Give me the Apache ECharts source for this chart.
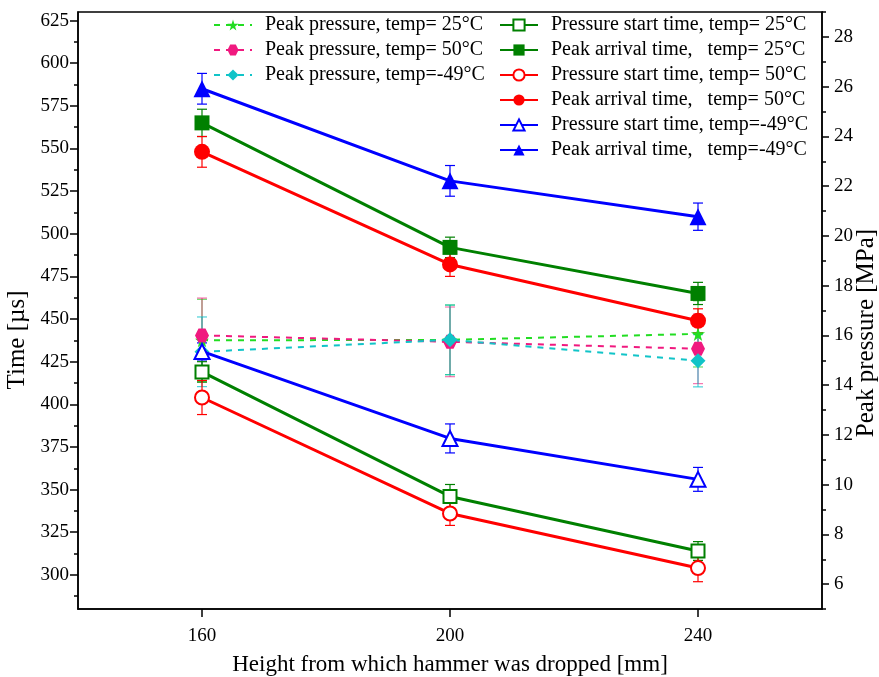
<!DOCTYPE html>
<html><head><meta charset="utf-8">
<script src="https://cdn.jsdelivr.net/npm/echarts@6/dist/echarts.min.js"></script>
<style>html,body{margin:0;padding:0;background:#fff}#c{width:879px;height:677px}</style>
</head><body><div id="c"></div>
<script>
const heights = [160, 200, 240];
const xTicks = [160, 200, 240];
const leftTicks = [300, 325, 350, 375, 400, 425, 450, 475, 500, 525, 550, 575, 600, 625];
const leftMinorTicks = [287.5, 312.5, 337.5, 362.5, 387.5, 412.5, 437.5, 462.5, 487.5, 512.5, 537.5, 562.5, 587.5, 612.5];
const rightTicks = [6, 8, 10, 12, 14, 16, 18, 20, 22, 24, 26, 28];
const rightMinorTicks = [5, 7, 9, 11, 13, 15, 17, 19, 21, 23, 25, 27, 29];
const leftTitle = 'Time [µs]';
const rightTitle = 'Peak pressure [MPa]';
// Time [µs] (left axis)
const startT25 = [419, 346, 314];
const startT25Err = [6, 7, 5.5];
const arrivalT25 = [565, 492, 465];
const arrivalT25Err = [8, 6, 6.5];
const startT50 = [404, 336, 304];
const startT50Err = [10, 7, 8];
const arrivalT50 = [548, 482, 449];
const arrivalT50Err = [9, 7, 7];
const startTm49 = [431, 380, 356];
const startTm49Err = [5, 8.5, 7];
const arrivalTm49 = [585, 531, 510];
const arrivalTm49Err = [9, 9, 8];
// Peak pressure [MPa] (right axis)
const peakP25 = [15.8, 15.82, 16.06];
const peakP25Err = [1.65, 1.4, 1.33];
const peakP50 = [16.0, 15.74, 15.46];
const peakP50Err = [1.5, 1.4, 1.4];
const peakPm49 = [15.34, 15.82, 14.98];
const peakPm49Err = [1.4, 1.4, 1.05];

const FONT = 'Liberation Serif';
const star = 'path://M50,0 L61,35 L98,35 L68,57 L79,91 L50,70 L21,91 L32,57 L2,35 L39,35 Z';
const hexagon = 'path://M25,0 L75,0 L100,50 L75,100 L25,100 L0,50 Z';

function pts(ys){ return heights.map((h,i)=>[h, ys[i]]); }
function errSeries(ys, errs, color, yIdx, w){
  return {
    type:'custom', yAxisIndex:yIdx, silent:true, z:3,
    data: heights.map((h,i)=>[h, ys[i], errs[i]]),
    encode:{x:0, y:1},
    renderItem:function(params, api){
      const x=api.value(0), y=api.value(1), e=api.value(2);
      const t=api.coord([x,y+e]), b=api.coord([x,y-e]);
      const hw=5;
      const st={stroke:color, lineWidth:w};
      return {type:'group', children:[
        {type:'line', shape:{x1:t[0],y1:t[1],x2:b[0],y2:b[1]}, style:st},
        {type:'line', shape:{x1:t[0]-hw,y1:t[1],x2:t[0]+hw,y2:t[1]}, style:st},
        {type:'line', shape:{x1:b[0]-hw,y1:b[1],x2:b[0]+hw,y2:b[1]}, style:st}
      ]};
    }
  };
}
function timeLine(name, ys, color, symbol, size, empty){
  return {
    name, type:'line', yAxisIndex:0, data:pts(ys), symbol, symbolSize:size, z:5,
    showAllSymbol:true,
    lineStyle:{color, width:3},
    itemStyle: empty ? {color, borderColor:color, borderWidth:2.5} : {color, borderColor:color, borderWidth:0},
    emphasis:{disabled:true}
  };
}
function pressLine(name, ys, color, symbol, size){
  return {
    name, type:'line', yAxisIndex:1, data:pts(ys), symbol, symbolSize:size, z:4,
    lineStyle:{color, width:2, type:[6,6]},
    itemStyle:{color, borderWidth:0},
    emphasis:{disabled:true}
  };
}
const legendText = {fontFamily:FONT, fontSize:20, color:'#000', lineHeight:24, padding:[0,0,0,8]};
function vTitle(text, x, y){
  return {type:'text', x, y, rotation:Math.PI/2, silent:true,
    style:{text, fontFamily:FONT, fontSize:25, fill:'#000', align:'center', verticalAlign:'middle'}};
}

const chart = echarts.init(document.getElementById('c'));
chart.setOption({
  animation:false,
  textStyle:{fontFamily:FONT},
  grid:{left:78, right:57, top:12, bottom:68, outerBoundsMode:'none', containLabel:false,
        show:true, borderColor:'#000', borderWidth:1.5},
  graphic:[vTitle(leftTitle, 17, 340), vTitle(rightTitle, 866, 333)],
  legend:[
    {orient:'vertical', left:208, top:8, itemWidth:38, itemHeight:14, itemGap:1,
     textStyle:legendText,
     data:['Peak pressure, temp= 25°C','Peak pressure, temp= 50°C','Peak pressure, temp=-49°C']},
    {orient:'vertical', left:494, top:8, itemWidth:38, itemHeight:14, itemGap:1,
     textStyle:legendText,
     data:['Pressure start time, temp= 25°C','Peak arrival time,   temp= 25°C',
           'Pressure start time, temp= 50°C','Peak arrival time,   temp= 50°C',
           'Pressure start time, temp=-49°C','Peak arrival time,   temp=-49°C']}
  ],
  xAxis:{
    type:'value', min:140, max:260, interval:20,
    name:'Height from which hammer was dropped [mm]', nameLocation:'middle', nameGap:44,
    nameTextStyle:{fontFamily:FONT, fontSize:23, color:'#000'},
    axisLine:{lineStyle:{color:'#000', width:1.5}},
    axisTick:{customValues:xTicks, length:8, lineStyle:{color:'#000', width:1.5}},
    axisLabel:{customValues:xTicks, fontFamily:FONT, fontSize:19, color:'#000', margin:18},
    splitLine:{show:false}
  },
  yAxis:[
    {type:'value', min:280, max:630, position:'left',
     axisLine:{show:true, lineStyle:{color:'#000', width:1.5}},
     axisTick:{show:true, customValues:leftTicks, length:8, lineStyle:{color:'#000', width:1.5}},
     axisLabel:{customValues:leftTicks, fontFamily:FONT, fontSize:19, color:'#000', margin:9},
     splitLine:{show:false}},
    {type:'value', min:5, max:29, position:'right',
     axisLine:{show:true, lineStyle:{color:'#000', width:1.5}},
     axisTick:{show:true, customValues:rightTicks, length:7, lineStyle:{color:'#000', width:1.5}},
     axisLabel:{customValues:rightTicks, fontFamily:FONT, fontSize:19, color:'#000', margin:12},
     splitLine:{show:false}},
    {type:'value', min:280, max:630, position:'left',
     axisLine:{show:false},
     axisTick:{show:true, customValues:leftMinorTicks, length:4, lineStyle:{color:'#000', width:1.5}},
     axisLabel:{show:false}, splitLine:{show:false}},
    {type:'value', min:5, max:29, position:'right',
     axisLine:{show:false},
     axisTick:{show:true, customValues:rightMinorTicks, length:4, lineStyle:{color:'#000', width:1.5}},
     axisLabel:{show:false}, splitLine:{show:false}}
  ],
  series:[
    errSeries(peakP25, peakP25Err, 'rgba(0,200,0,0.6)', 1, 1.2),
    errSeries(peakP50, peakP50Err, 'rgba(240,20,120,0.6)', 1, 1.2),
    errSeries(peakPm49, peakPm49Err, 'rgba(0,190,200,0.7)', 1, 1.2),
    errSeries(startT25, startT25Err, '#008000', 0, 1.2),
    errSeries(arrivalT25, arrivalT25Err, '#008000', 0, 1.2),
    errSeries(startT50, startT50Err, '#ff0000', 0, 1.2),
    errSeries(arrivalT50, arrivalT50Err, '#ff0000', 0, 1.2),
    errSeries(startTm49, startTm49Err, '#0000ff', 0, 1.2),
    errSeries(arrivalTm49, arrivalTm49Err, '#0000ff', 0, 1.2),
    pressLine('Peak pressure, temp= 25°C', peakP25, '#22dd22', star, 14),
    pressLine('Peak pressure, temp= 50°C', peakP50, '#f0197f', hexagon, 14),
    pressLine('Peak pressure, temp=-49°C', peakPm49, '#11c4c8', 'diamond', 15),
    timeLine('Pressure start time, temp= 25°C', startT25, '#008000', 'emptyRect', 13, true),
    timeLine('Peak arrival time,   temp= 25°C', arrivalT25, '#008000', 'rect', 15, false),
    timeLine('Pressure start time, temp= 50°C', startT50, '#ff0000', 'emptyCircle', 14, true),
    timeLine('Peak arrival time,   temp= 50°C', arrivalT50, '#ff0000', 'circle', 16, false),
    timeLine('Pressure start time, temp=-49°C', startTm49, '#0000ff', 'emptyTriangle', 15, true),
    timeLine('Peak arrival time,   temp=-49°C', arrivalTm49, '#0000ff', 'triangle', 17, false)
  ]
});
</script></body></html>
